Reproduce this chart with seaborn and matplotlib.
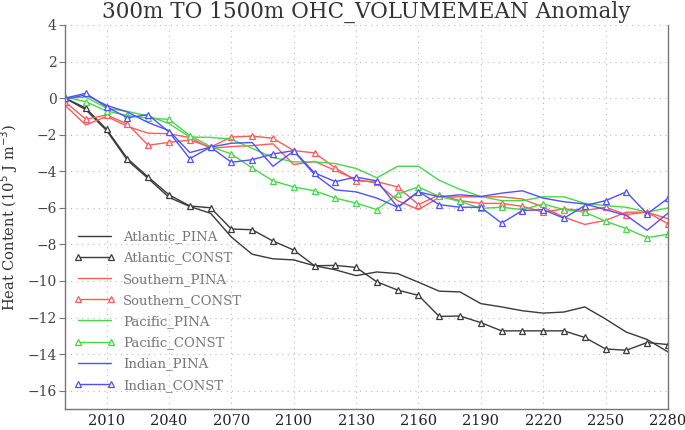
import numpy as np
import pandas as pd
import matplotlib
matplotlib.use('Agg')
import matplotlib.pyplot as plt
import seaborn as sns

years = list(range(1990, 2281, 10))

atlantic_pina = [0.0, -0.64, -1.78, -3.4, -4.4, -5.43, -5.93, -6.3, -7.6, -8.54,
                 -8.79, -8.85, -9.17, -9.39, -9.71, -9.51, -9.6, -10.07, -10.56, -10.6,
                 -11.24, -11.42, -11.63, -11.76, -11.7, -11.42, -12.08, -12.8, -13.2, -13.88]
atlantic_const = [0.0, -0.55, -1.71, -3.31, -4.32, -5.29, -5.9, -6.0, -7.16, -7.2,
                  -7.82, -8.31, -9.17, -9.15, -9.26, -10.05, -10.5, -10.79, -11.94, -11.92,
                  -12.28, -12.73, -12.73, -12.73, -12.73, -13.09, -13.72, -13.79, -13.37, -13.48]
southern_pina = [-0.4, -1.47, -1.0, -1.55, -1.92, -1.95, -2.16, -2.75, -2.65, -2.6,
                 -2.5, -3.64, -3.46, -3.96, -4.45, -4.65, -5.61, -6.1, -5.43, -5.4,
                 -5.4, -5.4, -5.52, -5.97, -6.51, -6.91, -6.69, -6.24, -6.24, -6.6]
southern_const = [-0.2, -1.16, -0.92, -1.42, -2.58, -2.42, -2.3, -2.68, -2.13, -2.08,
                  -2.2, -2.87, -3.0, -3.82, -4.53, -4.57, -4.86, -5.83, -5.29, -5.61,
                  -5.76, -5.76, -5.92, -6.24, -6.06, -6.15, -5.97, -6.37, -6.24, -6.87]
pacific_pina = [0.0, 0.05, -0.55, -0.73, -0.98, -1.39, -2.13, -2.15, -2.25, -2.75,
                -3.25, -3.49, -3.49, -3.58, -3.85, -4.36, -3.73, -3.73, -4.5, -4.99,
                -5.38, -5.61, -5.61, -5.4, -5.4, -5.76, -5.88, -5.97, -6.24, -6.01]
pacific_const = [0.06, -0.2, -0.71, -0.95, -1.1, -1.16, -2.05, -2.65, -3.06, -3.82,
                 -4.53, -4.86, -5.07, -5.47, -5.74, -6.1, -5.25, -4.86, -5.38, -5.65,
                 -6.03, -5.97, -6.1, -5.79, -6.1, -6.24, -6.73, -7.14, -7.63, -7.45]
indian_pina = [-0.05, 0.17, -0.4, -0.76, -1.34, -1.78, -2.98, -2.68, -2.47, -2.43,
               -3.73, -2.9, -4.18, -5.02, -5.13, -5.47, -5.97, -5.13, -5.4, -5.29,
               -5.38, -5.2, -5.07, -5.47, -5.67, -5.79, -6.1, -6.42, -7.23, -6.3]
indian_const = [0.0, 0.26, -0.49, -1.07, -0.91, -1.86, -3.31, -2.68, -3.51, -3.37,
                -3.06, -2.87, -4.09, -4.57, -4.32, -4.53, -5.97, -5.11, -5.83, -5.97,
                -5.97, -6.84, -6.15, -6.1, -6.57, -5.88, -5.61, -5.13, -6.33, -5.49]

series = [
    ('Atlantic_PINA', atlantic_pina, '#3a3a3a', False),
    ('Atlantic_CONST', atlantic_const, '#3a3a3a', True),
    ('Southern_PINA', southern_pina, '#ff5a5a', False),
    ('Southern_CONST', southern_const, '#ff5a5a', True),
    ('Pacific_PINA', pacific_pina, '#46d846', False),
    ('Pacific_CONST', pacific_const, '#46d846', True),
    ('Indian_PINA', indian_pina, '#5050ff', False),
    ('Indian_CONST', indian_const, '#5050ff', True),
]

sns.set_style('white')
plt.rcParams['font.family'] = ['DejaVu Serif']
plt.rcParams['axes.unicode_minus'] = True

fig = plt.figure(figsize=(6.85, 4.3), dpi=100)
ax = fig.add_axes([0.095, 0.049, 0.88, 0.893])

for name, vals, col, tri in series:
    df = pd.DataFrame({'year': years, 'val': vals})
    if tri:
        sns.lineplot(data=df, x='year', y='val', ax=ax, color=col, lw=1.0,
                     marker='^', markersize=5, markerfacecolor='white',
                     markeredgecolor=col, markeredgewidth=0.9, label=name)
    else:
        sns.lineplot(data=df, x='year', y='val', ax=ax, color=col, lw=1.0, label=name)

ax.set_xlim(1990, 2280)
ax.set_ylim(-17, 4)
ax.set_xticks(range(2010, 2281, 30))
ax.set_yticks(range(-16, 5, 2))
ax.grid(True, linestyle=(0, (1, 4)), color='#bbbbbb', lw=0.8)
for s in ['left', 'bottom', 'right']:
    ax.spines[s].set_color('#777777')
    ax.spines[s].set_linewidth(1.0)
ax.spines['top'].set_visible(False)
ax.tick_params(axis='y', direction='out', length=4, color='#777777',
               labelsize=10, labelcolor='#444444', left=True, pad=2)
ax.tick_params(axis='x', length=0, labelsize=10.5, labelcolor='#222222', pad=4)

ax.set_xlabel('')
ax.set_ylabel('Heat Content (10$^5$ J m$^{-3}$)', fontsize=10.5, color='#333333')
ax.yaxis.set_label_coords(-0.074, 0.5)
ax.set_title('300m TO 1500m OHC_VOLUMEMEAN Anomaly', fontsize=15.5, color='#333333', pad=5)

leg = ax.legend(loc='upper left', bbox_to_anchor=(0.015, 0.465), frameon=False,
                fontsize=9.5, numpoints=2, handlelength=3.1, handletextpad=0.6,
                labelspacing=0.62, borderaxespad=0, borderpad=0)
for t in leg.get_texts():
    t.set_color('#777777')

fig.savefig('out.png', dpi=100)
